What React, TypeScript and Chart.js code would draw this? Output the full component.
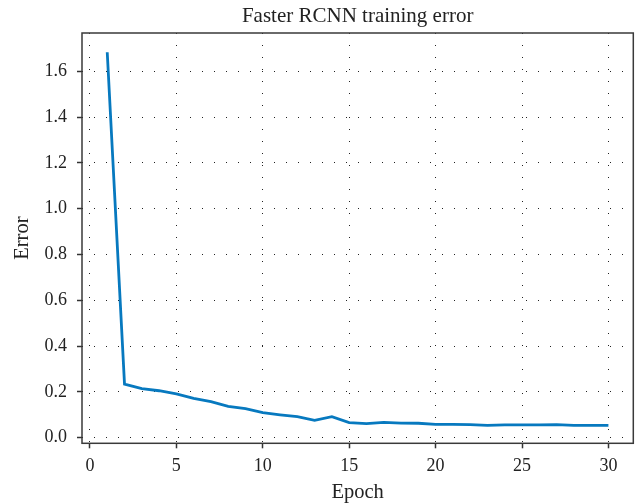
import React, { useEffect, useRef } from "react";
import { Chart, registerables } from "chart.js";

Chart.register(...registerables);

const chartTitle = "Faster RCNN training error";
const xAxisTitle = "Epoch";
const yAxisTitle = "Error";

const epochs = [
  1, 2, 3, 4, 5, 6, 7, 8, 9, 10, 11, 12, 13, 14, 15, 16, 17, 18, 19, 20, 21,
  22, 23, 24, 25, 26, 27, 28, 29, 30,
];
const errors = [
  1.683, 0.234, 0.214, 0.205, 0.191, 0.172, 0.157, 0.137, 0.127, 0.109, 0.1,
  0.092, 0.076, 0.092, 0.066, 0.061, 0.067, 0.064, 0.063, 0.058, 0.058, 0.057,
  0.054, 0.056, 0.056, 0.056, 0.057, 0.054, 0.054, 0.054,
];
const xTicks = [0, 5, 10, 15, 20, 25, 30];
const yTicks = [0, 0.2, 0.4, 0.6, 0.8, 1.0, 1.2, 1.4, 1.6];

const FONT = "'Liberation Serif', 'Times New Roman', serif";

const frame = {
  id: "frame",
  afterDraw(chart: any) {
    const { ctx, chartArea } = chart;
    ctx.save();
    ctx.strokeStyle = "#3a3a3a";
    ctx.lineWidth = 1.5;
    ctx.strokeRect(
      chartArea.left,
      chartArea.top,
      chartArea.right - chartArea.left,
      chartArea.bottom - chartArea.top
    );
    ctx.restore();
  },
};

export default function App() {
  const ref = useRef<HTMLCanvasElement | null>(null);

  useEffect(() => {
    if (!ref.current) return;
    const chart = new Chart(ref.current, {
      type: "line",
      data: {
        datasets: [
          {
            data: epochs.map((e, i) => ({ x: e, y: errors[i] })),
            borderColor: "#0779BF",
            borderWidth: 2.8,
            pointRadius: 0,
            tension: 0,
            fill: false,
          },
        ],
      },
      options: {
        animation: false,
        responsive: false,
        devicePixelRatio: 1,
        layout: { padding: { left: 0, right: 2.7, top: 0, bottom: 0 } },
        plugins: {
          legend: { display: false },
          tooltip: { enabled: false },
          title: {
            display: true,
            fullSize: false,
            text: chartTitle,
            color: "#222",
            font: { family: FONT, size: 21, weight: "normal", lineHeight: 1.2 },
            padding: { top: 3.5, bottom: 4.3 },
          },
        },
        scales: {
          x: {
            type: "linear",
            min: -0.46,
            max: 31.44,
            afterBuildTicks: (s: any) => {
              s.ticks = xTicks.map((v) => ({ value: v }));
            },
            afterFit: (s: any) => {
              s.height = 60.7;
            },
            ticks: {
              color: "#222",
              font: { family: FONT, size: 18, lineHeight: 1.2 },
              padding: 7,
              maxRotation: 0,
              autoSkip: false,
              callback: (v: any) => String(v),
            },
            grid: {
              color: "#222",
              lineWidth: 1,
              drawTicks: true,
              tickLength: 5,
              tickColor: "#333",
              tickWidth: 1.5,
              tickBorderDash: [],
              borderDash: [1, 11],
            } as any,
            border: { display: false, dash: [1, 11] },
            title: {
              display: true,
              text: xAxisTitle,
              color: "#222",
              font: { family: FONT, size: 20.5, lineHeight: 1 },
              padding: { top: 0, bottom: 1 },
            },
          },
          y: {
            type: "linear",
            min: -0.0245,
            max: 1.767,
            afterBuildTicks: (s: any) => {
              s.ticks = yTicks.map((v) => ({ value: v }));
            },
            afterFit: (s: any) => {
              s.width = 82;
            },
            ticks: {
              color: "#222",
              font: { family: FONT, size: 18, lineHeight: 1.2 },
              padding: 10,
              autoSkip: false,
              callback: (v: any) => Number(v).toFixed(1),
            },
            grid: {
              color: "#222",
              lineWidth: 1,
              drawTicks: true,
              tickLength: 5,
              tickColor: "#333",
              tickWidth: 1.5,
              tickBorderDash: [],
              borderDash: [1, 11],
            } as any,
            border: { display: false, dash: [1, 11] },
            title: {
              display: true,
              text: yAxisTitle,
              color: "#222",
              font: { family: FONT, size: 20.5, lineHeight: 1 },
              padding: { top: 12, bottom: 0 },
            },
          },
        },
      },
      plugins: [frame],
    } as any);
    return () => chart.destroy();
  }, []);

  return (
    <div style={{ position: "absolute", left: 0, top: 0, width: 636, height: 504, background: "#fff" }}>
      <canvas ref={ref} width={636} height={504} style={{ display: "block" }} />
    </div>
  );
}
